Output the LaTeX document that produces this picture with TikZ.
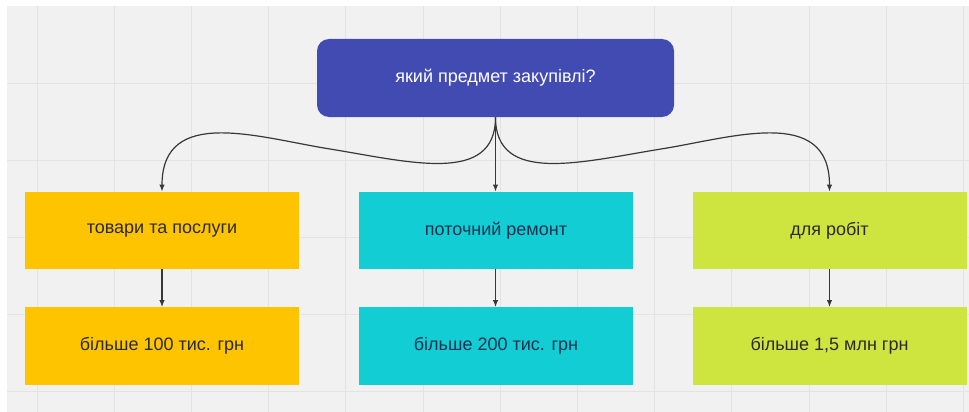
\documentclass[tikz,border=0pt]{standalone}
\usepackage{fontspec}
\setmainfont{Liberation Sans}
\usetikzlibrary{arrows.meta}
\definecolor{bgc}{HTML}{F1F1F1}
\definecolor{gridc}{HTML}{E3E3E3}
\definecolor{topc}{HTML}{424BB1}
\definecolor{yelc}{HTML}{FFC400}
\definecolor{cyac}{HTML}{13CDD5}
\definecolor{grnc}{HTML}{CFE53F}
\definecolor{txtc}{HTML}{2A2A2A}
\definecolor{txtb}{HTML}{14324E}
\definecolor{linec}{HTML}{383838}
\begin{document}
\begin{tikzpicture}[x=1pt,y=-1pt,
  box/.style={rectangle, inner sep=0pt, minimum width=274pt, minimum height=77.5pt,
    font=\fontsize{18}{20}\selectfont, text=txtc},
  topbox/.style={rectangle, rounded corners=12pt, fill=topc, inner sep=0pt,
    minimum width=357pt, minimum height=78pt, text=white,
    font=\fontsize{18}{20}\selectfont},
  conn/.style={draw=linec, line width=1.2pt, -{Latex[length=7pt,width=5.5pt]}}]
\useasboundingbox (0,0) rectangle (969,412);
\fill[white] (0,0) rectangle (969,412);
\fill[bgc] (7,6) rectangle (969,412);
\begin{scope}
\clip (7,6) rectangle (969,412);
\foreach \gx in {37,114.2,191.4,268.6,345.8,423,500.2,577.4,654.6,731.8,809,886.2,963.4}
  \draw[gridc, line width=1pt] (\gx,6) -- (\gx,412);
\foreach \gy in {83,160.2,237.4,314.6,391.8}
  \draw[gridc, line width=1pt] (7,\gy) -- (969,\gy);
\end{scope}

\node[topbox] (top) at (495.5,78) {який предмет закупівлі?};

\node[box, fill=yelc] (y1) at (162,230.5) {товари та послуги};
\node[box, fill=yelc] (y2) at (162,346) {більше 100 тис. грн};
\node[box, fill=cyac, text=txtb] (c1) at (496,230.5) {поточний ремонт};
\node[box, fill=cyac, text=txtb] (c2) at (496,346) {більше 200 тис. грн};
\node[box, fill=grnc] (g1) at (829.5,230.5) {для робіт};
\node[box, fill=grnc] (g2) at (829.5,346) {більше 1,5 млн грн};

\draw[conn] (top.south) .. controls (495.5,185) and (410,162) .. (330,149)
  .. controls (260,138) and (162,105) .. (y1.north);
\draw[conn] (top.south) .. controls (495.5,185) and (581,162) .. (661,149)
  .. controls (731,138) and (829.5,105) .. (g1.north);
\draw[conn] (top.south) -- (top.south |- c1.north);

\draw[conn] (y1.south) -- (y2.north);
\draw[conn] (c1.south -| top.south) -- (top.south |- c2.north);
\draw[conn] (g1.south) -- (g2.north);
\end{tikzpicture}
\end{document}
